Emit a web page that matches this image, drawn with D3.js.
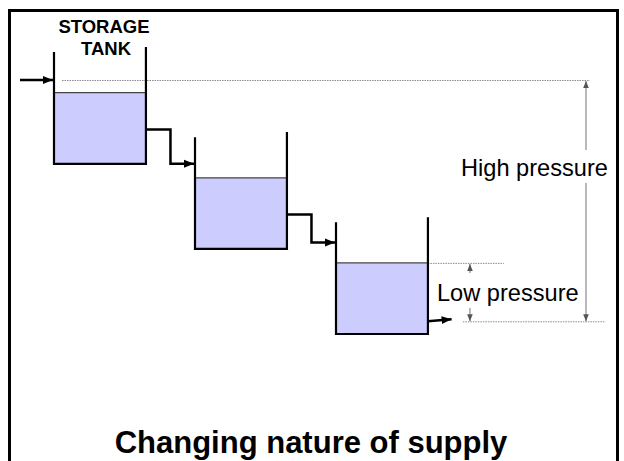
<!DOCTYPE html>
<html>
<head>
<meta charset="utf-8">
<script src="https://cdn.jsdelivr.net/npm/d3@7"></script>
<style>
  body { margin: 0; background: #fff; }
  text { font-family: "Liberation Sans", Arial, sans-serif; }
</style>
</head>
<body>
<div id="chart"></div>
<script>
// tanks in a stepped supply, elevations in head units (tank 3 floor = 0)
var tankNames = ['Tank 1', 'Tank 2', 'Tank 3'];
var tankFloor = [67, 33.5, 0];
var waterDepth = [28, 28, 28];
var leftWallHeight = [44, 44, 44];
var rightWallHeight = [46, 46, 46];
var inletLevel = [100, 67, 36];
var outletLevel = [80.5, 47, 5];
var supplyHead = 100;
var outletHead = 5;

var w = 624, h = 461;

var svg = d3.select('#chart')
  .append('svg')
  .attr('width', w)
  .attr('height', h);

// x in "tank steps", y in head units
var x = d3.scaleLinear().domain([0, 1]).range([54, 195]);
var y = d3.scaleLinear().domain([0, 100]).range([334, 80]);
var tankW = 0.652;

var defs = svg.append('defs');
function marker(id, color, size) {
  defs.append('marker')
    .attr('id', id)
    .attr('viewBox', '0 0 10 10')
    .attr('refX', 10).attr('refY', 5)
    .attr('markerUnits', 'userSpaceOnUse')
    .attr('markerWidth', size).attr('markerHeight', size)
    .attr('orient', 'auto')
    .append('path')
    .attr('d', 'M0,1 L10,5 L0,9 Z')
    .attr('fill', color);
}
marker('blk', '#000', 10);
marker('gry', '#555', 7);

// frame
svg.append('path')
  .attr('d', 'M9.5,' + h + ' V10.5 H617.5 V' + h)
  .attr('fill', 'none')
  .attr('stroke', '#000')
  .attr('stroke-width', 3);

// reference lines (dotted)
var refLines = [
  [0.057, 3.80, supplyHead],
  [2 + tankW, 3.19, tankFloor[2] + waterDepth[2]],
  [2.90, 3.91, outletHead]
];
svg.selectAll('.ref').data(refLines).enter().append('line')
  .attr('x1', d => x(d[0])).attr('x2', d => x(d[1]))
  .attr('y1', d => y(d[2]) + 0.5).attr('y2', d => y(d[2]) + 0.5)
  .attr('stroke', '#8a8a8a')
  .attr('stroke-width', 1)
  .attr('stroke-dasharray', '1.5,1');

// water
var tanks = tankNames.map((n, i) => ({
  name: n, i: i, floor: tankFloor[i], depth: waterDepth[i],
  lw: leftWallHeight[i], rw: rightWallHeight[i]
}));

svg.selectAll('.water').data(tanks).enter().append('rect')
  .attr('x', d => x(d.i))
  .attr('width', d => x(d.i + tankW) - x(d.i))
  .attr('y', d => y(d.floor + d.depth))
  .attr('height', d => y(d.floor) - y(d.floor + d.depth))
  .attr('fill', '#ccccff');

svg.selectAll('.surface').data(tanks).enter().append('line')
  .attr('x1', d => x(d.i)).attr('x2', d => x(d.i + tankW))
  .attr('y1', d => y(d.floor + d.depth)).attr('y2', d => y(d.floor + d.depth))
  .attr('stroke', '#444')
  .attr('stroke-width', 1.2);

// tank walls
svg.selectAll('.tank').data(tanks).enter().append('path')
  .attr('d', d => {
    var l = x(d.i), r = x(d.i + tankW), b = y(d.floor);
    return 'M' + l + ',' + y(d.floor + d.lw) + ' V' + b + ' H' + r + ' V' + y(d.floor + d.rw);
  })
  .attr('fill', 'none')
  .attr('stroke', '#000')
  .attr('stroke-width', 2.2);

// pipes between tanks
var line = d3.line();
var pipes = [];
pipes.push([[x(-0.241), y(inletLevel[0])], [x(0) - 1, y(inletLevel[0])]]);
for (var i = 0; i < 2; i++) {
  var r = x(i + tankW), nl = x(i + 1), mid = (r + nl) / 2;
  pipes.push([[r, y(outletLevel[i])], [mid, y(outletLevel[i])],
    [mid, y(inletLevel[i + 1])], [nl - 1, y(inletLevel[i + 1])]]);
}
pipes.push([[x(2 + tankW), y(outletLevel[2])], [x(2.82), y(outletLevel[2] + 0.8)]]);

svg.selectAll('.pipe').data(pipes).enter().append('path')
  .attr('d', d => line(d))
  .attr('fill', 'none')
  .attr('stroke', '#000')
  .attr('stroke-width', 2.5)
  .attr('marker-end', 'url(#blk)');

// dimension arrows
var hx = x(3.773), lx = x(2.95);
var dims = [
  [[hx, 150], [hx, y(supplyHead) + 1]],
  [[hx, 183], [hx, y(outletHead)]],
  [[lx, 273], [lx, y(tankFloor[2] + waterDepth[2]) + 1]],
  [[lx, 308], [lx, y(outletHead)]]
];
svg.selectAll('.dim').data(dims).enter().append('path')
  .attr('d', d => line(d))
  .attr('stroke', '#8a8a8a')
  .attr('stroke-width', 1.2)
  .attr('marker-end', 'url(#gry)');

// labels
svg.append('text').text('STORAGE')
  .attr('x', 104).attr('y', 33)
  .attr('text-anchor', 'middle')
  .style('font-size', '18.5px').style('font-weight', 'bold');
svg.append('text').text('TANK')
  .attr('x', 106).attr('y', 55)
  .attr('text-anchor', 'middle')
  .style('font-size', '18.5px').style('font-weight', 'bold');

svg.append('text').text('High pressure')
  .attr('x', 461).attr('y', 176)
  .style('font-size', '23.6px');
svg.append('text').text('Low pressure')
  .attr('x', 437).attr('y', 301)
  .style('font-size', '23.6px');

svg.append('text').text('Changing nature of supply')
  .attr('x', 311).attr('y', 453)
  .attr('text-anchor', 'middle')
  .style('font-size', '31px').style('font-weight', 'bold');
</script>
</body>
</html>
